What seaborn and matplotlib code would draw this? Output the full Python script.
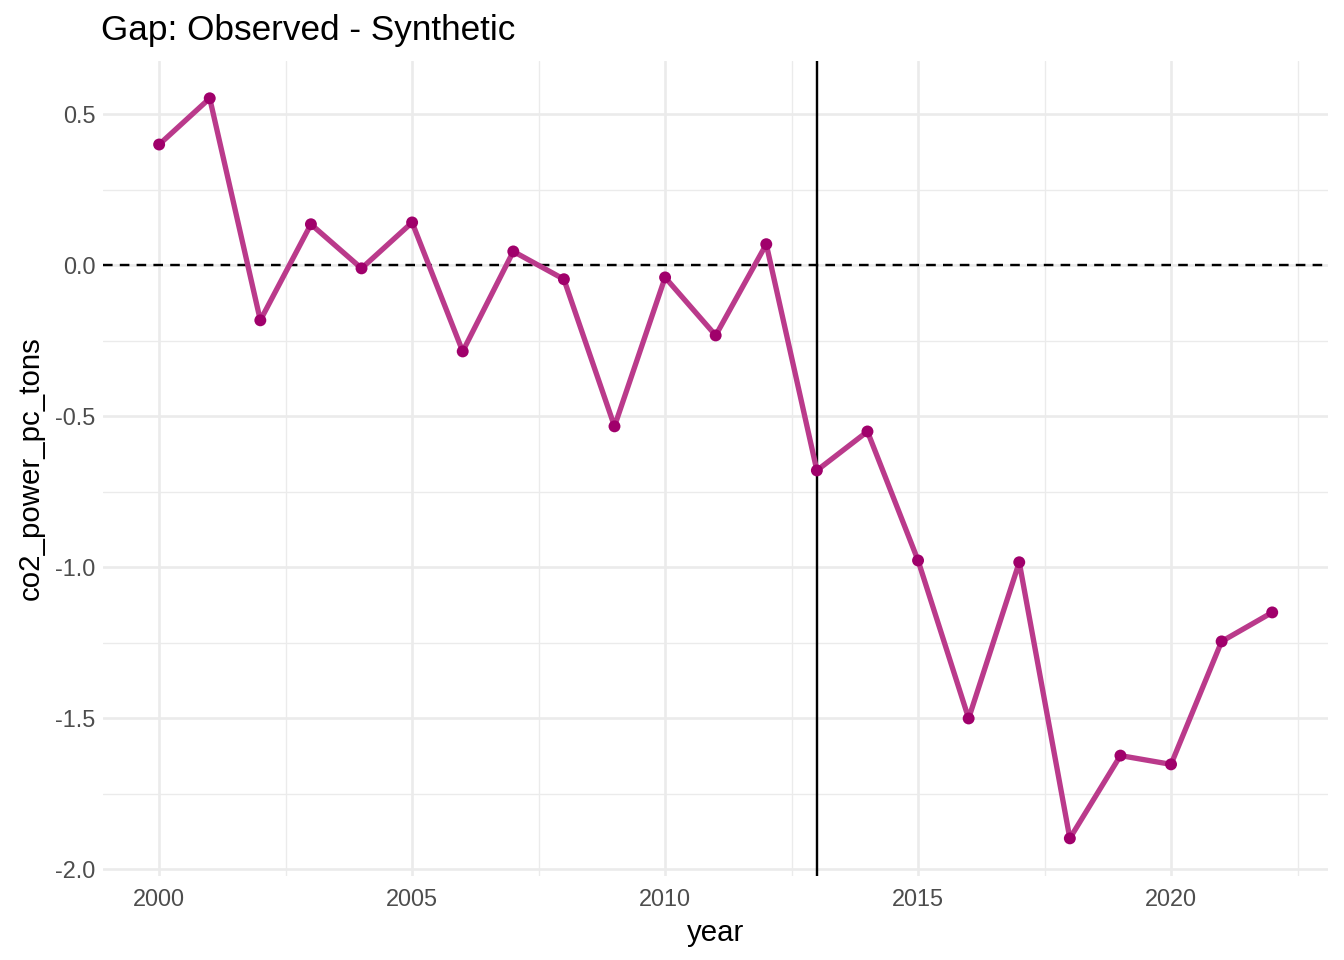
import numpy as np
import pandas as pd
import matplotlib
matplotlib.use("Agg")
import matplotlib.pyplot as plt
import seaborn as sns
from matplotlib.ticker import MultipleLocator, FormatStrFormatter

# gap between observed and synthetic series
years = list(range(2000, 2023))
gap = [0.40, 0.553, -0.182, 0.136, -0.010, 0.142, -0.285, 0.046, -0.046, -0.533,
       -0.040, -0.232, 0.070, -0.679, -0.550, -0.977, -1.500, -0.983, -1.897,
       -1.623, -1.652, -1.245, -1.149]
treat_year = 2013

df = pd.DataFrame({"year": years, "co2_power_pc_tons": gap})

sns.set_theme(style="whitegrid")
plt.rcParams['font.family'] = ['Liberation Sans', 'DejaVu Sans']

fig, ax = plt.subplots(figsize=(7, 5), dpi=192)
fig.subplots_adjust(left=0.077, right=0.988, top=0.936, bottom=0.088)

ax.grid(True, which='major', color='#EBEBEB', linewidth=1.0)
ax.grid(True, which='minor', color='#EBEBEB', linewidth=0.5)
ax.set_axisbelow(True)

ax.axhline(0, color='black', linestyle=(0, (4, 3)), linewidth=0.9, zorder=2)
ax.axvline(treat_year, color='black', linewidth=0.9, zorder=2)

sns.lineplot(data=df, x="year", y="co2_power_pc_tons", ax=ax,
             color='#BA3A8B', linewidth=2.0, zorder=3)
sns.scatterplot(data=df, x="year", y="co2_power_pc_tons", ax=ax,
                color='#A0006B', s=20, edgecolor='none', zorder=4)

ax.set_xlim(1998.9, 2023.1)
ax.set_ylim(-2.02, 0.675)
ax.xaxis.set_major_locator(MultipleLocator(5))
ax.xaxis.set_minor_locator(MultipleLocator(2.5))
ax.yaxis.set_major_locator(MultipleLocator(0.5))
ax.yaxis.set_minor_locator(MultipleLocator(0.25))
ax.yaxis.set_major_formatter(FormatStrFormatter('%.1f'))

for s in ax.spines.values():
    s.set_visible(False)
ax.tick_params(which='both', length=0, labelsize=8.8, labelcolor='#4D4D4D', pad=3)
ax.tick_params(axis='x', which='both', pad=4.5)

ax.set_xlabel("year", fontsize=11, color='black', labelpad=3)
ax.set_ylabel("co2_power_pc_tons", fontsize=11, color='black', labelpad=4)
ax.set_title("Gap: Observed - Synthetic", fontsize=13.2, color='black',
             loc='left', x=-0.002, pad=8)

fig.savefig("out.png", dpi=192)
